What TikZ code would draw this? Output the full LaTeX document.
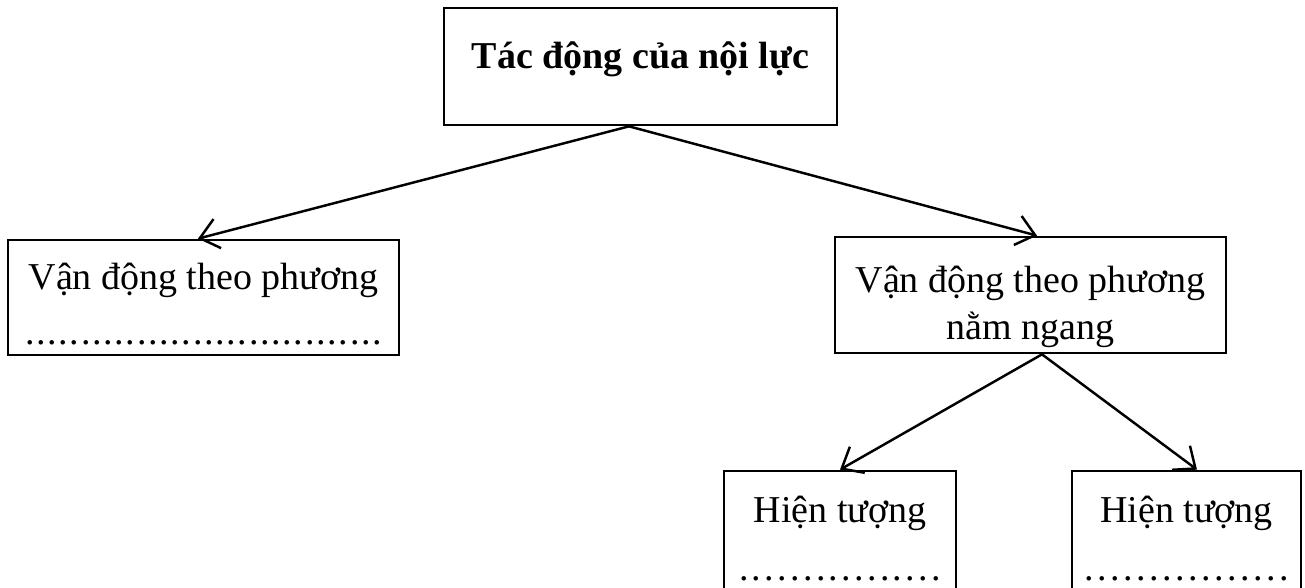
\documentclass[tikz,border=0pt]{standalone}
\usepackage{fontspec}
\setmainfont{Liberation Serif}
\usetikzlibrary{arrows.meta, calc}
\newcommand{\dotrow}[2]{\foreach \i in {1,...,#1}{\makebox[#2]{.}}}
\newcommand{\lift}[1]{\rule{0pt}{#1}}

\begin{document}
\begin{tikzpicture}[
    x=0.01cm, y=-0.01cm,
    box/.style={draw, line width=0.75pt, align=center, inner sep=0pt, font=\fontsize{10.8}{13.4}\selectfont},
    arrow/.style={-{Straight Barb[length=1.8mm, width=3mm]}, line width=0.7pt}
]
    \clip (0,0) rectangle (1305,588);
    \node[box, minimum width=3.93cm, minimum height=1.17cm] (force) at (640.5,66.5) {\textbf{Tác động của nội lực}\rule[-6.4pt]{0pt}{6.4pt}};
    \node[box, minimum width=3.91cm, minimum height=1.15cm] (vert) at (203.5,297.5) {\lift{11.1pt}Vận động theo phương\\[2.2pt]\dotrow{32}{0.112cm}};
    \node[box, minimum width=3.91cm, minimum height=1.16cm] (horiz) at (1030.5,295) {\lift{14.2pt}Vận động theo phương\\nằm ngang};
    \node[box, minimum width=2.32cm, minimum height=1.32cm] (fold) at (840,537) {\lift{8.3pt}Hiện tượng\\[3pt]\dotrow{16}{0.128cm}};
    \node[box, minimum width=2.29cm, minimum height=1.32cm] (fault) at (1186.5,537) {\lift{8.3pt}Hiện tượng\\[3pt]\dotrow{16}{0.13cm}};
    \draw[arrow] ($(force.south)+(-11.5,0)$) -- ($(vert.north)+(-5.5,0)$);
    \draw[arrow] ($(force.south)+(-11.5,0)$) -- ($(horiz.north)+(6.5,0)$);
    \draw[arrow] ($(horiz.south)+(11.5,0)$) -- (fold.north);
    \draw[arrow] ($(horiz.south)+(11.5,0)$) -- ($(fault.north)+(10.5,0)$);
\end{tikzpicture}
\end{document}
